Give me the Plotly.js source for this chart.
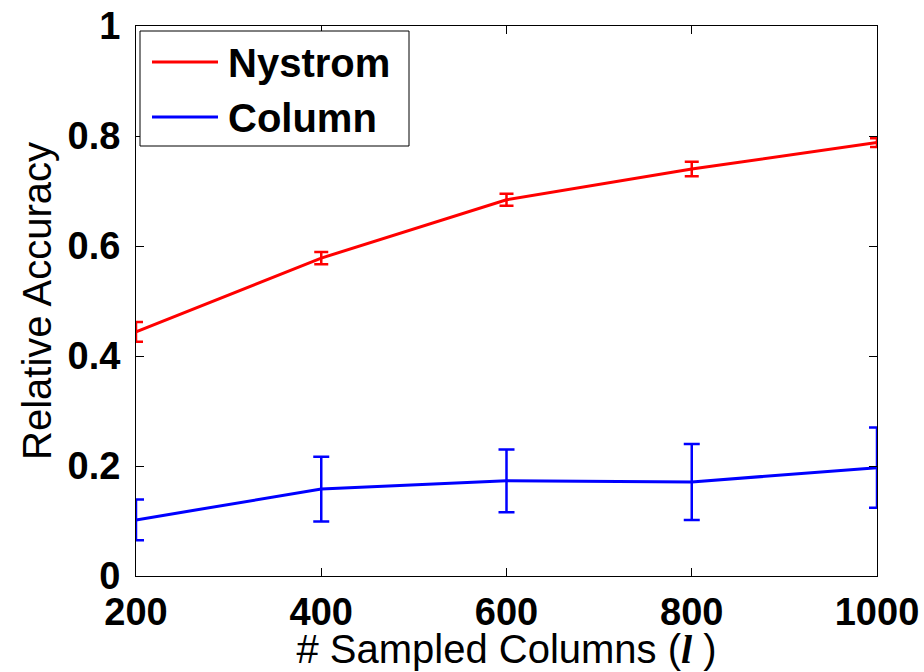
<!DOCTYPE html>
<html>
<head>
<meta charset="utf-8">
<script src="https://cdn.plot.ly/plotly-3.0.1.min.js"></script>
<style>body{margin:0;padding:0;background:#fff;} #chart{width:924px;height:672px;}</style>
</head>
<body>
<div id="chart"></div>
<script>
// Data
var sampledColumns = [200, 400, 600, 800, 1000];
var seriesNames = ["Nystrom", "Column"];
var nystromAcc = [0.444, 0.578, 0.684, 0.740, 0.788];
var nystromErr = [0.018, 0.011, 0.011, 0.013, 0.008];
var columnAcc = [0.102, 0.158, 0.173, 0.171, 0.197];
var columnErr = [0.037, 0.059, 0.057, 0.069, 0.073];
var xTicks = [200, 400, 600, 800, 1000];
var yTicks = [0, 0.2, 0.4, 0.6, 0.8, 1];
var yTickText = ["0", "0.2", "0.4", "0.6", "0.8", "1"];

var red = "#ff0000", blue = "#0000ff";
var traces = [
  {x: sampledColumns, y: nystromAcc, name: seriesNames[0], type: "scatter", mode: "lines",
   line: {color: red, width: 3},
   error_y: {type: "data", array: nystromErr, visible: true, color: red, thickness: 2.5, width: 7}},
  {x: sampledColumns, y: columnAcc, name: seriesNames[1], type: "scatter", mode: "lines",
   line: {color: blue, width: 3},
   error_y: {type: "data", array: columnErr, visible: true, color: blue, thickness: 2.5, width: 8}}
];

var L = 136, R = 47, T = 26, B = 96;
var W = 924 - L - R, H = 672 - T - B;
function px(xp){ return (xp - L) / W; }
function py(yp){ return (672 - B - yp) / H; }

var tickFont = {family: "Liberation Sans, Arial, sans-serif", size: 38, color: "#000", weight: "bold"};
var layout = {
  width: 924, height: 672,
  margin: {l: L, r: R, t: T, b: B, pad: 0},
  paper_bgcolor: "#fff", plot_bgcolor: "#fff",
  showlegend: false,
  font: {family: "Liberation Sans, Arial, sans-serif", color: "#000"},
  xaxis: {
    range: [200, 1000], tickvals: xTicks, ticktext: xTicks.map(String),
    ticks: "inside", ticklen: 8, tickwidth: 1, tickcolor: "#000",
    showline: true, linecolor: "#000", linewidth: 1, mirror: "ticks",
    showgrid: false, zeroline: false, tickfont: tickFont, ticklabelstandoff: 2,
    title: {text: "# Sampled Columns (<span style=\"font-family:'Liberation Serif',serif\"><b><i>l</i></b></span> )",
            font: {family: "Liberation Sans, Arial, sans-serif", size: 40, color: "#000"}, standoff: 0}
  },
  yaxis: {
    range: [0, 1], tickvals: yTicks, ticktext: yTickText,
    ticks: "inside", ticklen: 8, tickwidth: 1, tickcolor: "#000",
    showline: true, linecolor: "#000", linewidth: 1, mirror: "ticks",
    showgrid: false, zeroline: false, tickfont: tickFont, ticklabelstandoff: 7,
    title: {text: "Relative Accuracy", font: {family: "Liberation Sans, Arial, sans-serif", size: 40, color: "#000"}, standoff: 3}
  },
  shapes: [
    {type: "rect", xref: "paper", yref: "paper", x0: px(140), x1: px(409), y0: py(146), y1: py(31),
     line: {color: "#000", width: 1}, fillcolor: "#fff", layer: "above"},
    {type: "line", xref: "paper", yref: "paper", x0: px(152), x1: px(218), y0: py(62), y1: py(62),
     line: {color: red, width: 3}, layer: "above"},
    {type: "line", xref: "paper", yref: "paper", x0: px(152), x1: px(218), y0: py(117), y1: py(117),
     line: {color: blue, width: 3}, layer: "above"}
  ],
  annotations: [
    {xref: "paper", yref: "paper", x: px(226), y: py(63), xanchor: "left", yanchor: "middle", showarrow: false,
     text: "<b>" + seriesNames[0] + "</b>", font: {family: "Liberation Sans, Arial, sans-serif", size: 40, color: "#000"}},
    {xref: "paper", yref: "paper", x: px(226), y: py(118), xanchor: "left", yanchor: "middle", showarrow: false,
     text: "<b>" + seriesNames[1] + "</b>", font: {family: "Liberation Sans, Arial, sans-serif", size: 40, color: "#000"}}
  ]
};
Plotly.newPlot("chart", traces, layout, {displayModeBar: false, staticPlot: true});
</script>
</body>
</html>
